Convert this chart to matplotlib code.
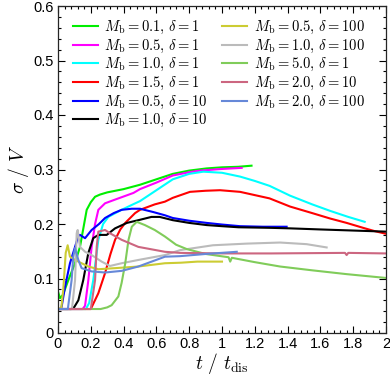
import matplotlib
matplotlib.use("Agg")
import matplotlib.pyplot as plt
from matplotlib.ticker import MultipleLocator

plt.rcParams['mathtext.fontset'] = 'cm'
plt.rcParams['font.family'] = ['Liberation Sans', 'DejaVu Sans']

labels = [r"$M_\mathrm{b} = 0.1,\, \delta = 1$",
          r"$M_\mathrm{b} = 0.5,\, \delta = 1$",
          r"$M_\mathrm{b} = 1.0,\, \delta = 1$",
          r"$M_\mathrm{b} = 1.5,\, \delta = 1$",
          r"$M_\mathrm{b} = 0.5,\, \delta = 10$",
          r"$M_\mathrm{b} = 1.0,\, \delta = 10$",
          r"$M_\mathrm{b} = 0.5,\, \delta = 100$",
          r"$M_\mathrm{b} = 1.0,\, \delta = 100$",
          r"$M_\mathrm{b} = 5.0,\, \delta = 1$",
          r"$M_\mathrm{b} = 2.0,\, \delta = 10$",
          r"$M_\mathrm{b} = 2.0,\, \delta = 100$"]
colors = ["#00ee00", "#ff00ff", "#00ffff", "#ff0000", "#0000ff", "#000000",
          "#cccc33", "#bbbbbb", "#80cc5a", "#cc6680", "#6688d8"]

t1 = [0.0, 0.012, 0.03, 0.063, 0.1, 0.134, 0.175, 0.2, 0.226, 0.256, 0.3, 0.4, 0.5, 0.6, 0.7, 0.8, 0.907, 1.0, 1.1, 1.18]
v1 = [0.076, 0.064, 0.07, 0.097, 0.125, 0.158, 0.226, 0.24, 0.25, 0.254, 0.258, 0.264, 0.272, 0.282, 0.292, 0.298, 0.302, 0.304, 0.305, 0.307]

t2 = [0.0, 0.15, 0.165, 0.185, 0.205, 0.226, 0.246, 0.287, 0.35, 0.46, 0.5, 0.6, 0.7, 0.8, 0.866, 1.0, 1.12]
v2 = [0.044, 0.044, 0.05, 0.097, 0.158, 0.2, 0.226, 0.238, 0.245, 0.257, 0.264, 0.276, 0.289, 0.295, 0.298, 0.301, 0.303]

t3 = [0.0, 0.17, 0.19, 0.215, 0.246, 0.275, 0.307, 0.35, 0.388, 0.45, 0.5, 0.6, 0.7, 0.8, 0.886, 1.0, 1.11, 1.2, 1.29, 1.415, 1.55, 1.66, 1.77, 1.87]
v3 = [0.044, 0.044, 0.055, 0.097, 0.171, 0.2, 0.213, 0.22, 0.226, 0.235, 0.242, 0.262, 0.282, 0.292, 0.296, 0.294, 0.287, 0.279, 0.27, 0.252, 0.236, 0.224, 0.213, 0.204]

t4 = [0.0, 0.2, 0.246, 0.287, 0.32, 0.348, 0.38, 0.41, 0.47, 0.5, 0.59, 0.652, 0.7, 0.805, 0.9, 0.988, 1.11, 1.2, 1.29, 1.415, 1.55, 1.66, 1.76, 1.86, 1.93, 2.0]
v4 = [0.044, 0.044, 0.073, 0.11, 0.145, 0.171, 0.19, 0.202, 0.22, 0.226, 0.236, 0.241, 0.248, 0.259, 0.261, 0.262, 0.259, 0.253, 0.247, 0.232, 0.22, 0.21, 0.202, 0.193, 0.187, 0.182]

t5 = [0.0, 0.015, 0.022, 0.043, 0.073, 0.104, 0.124, 0.134, 0.165, 0.205, 0.25, 0.287, 0.34, 0.388, 0.45, 0.5, 0.58, 0.652, 0.7, 0.8, 0.907, 1.0, 1.11, 1.25, 1.394]
v5 = [0.044, 0.044, 0.048, 0.085, 0.128, 0.158, 0.178, 0.18, 0.174, 0.189, 0.2, 0.211, 0.22, 0.226, 0.228, 0.228, 0.222, 0.216, 0.211, 0.206, 0.202, 0.199, 0.196, 0.195, 0.195]

t6 = [0.0, 0.08, 0.1, 0.124, 0.154, 0.185, 0.215, 0.246, 0.297, 0.348, 0.42, 0.49, 0.57, 0.62, 0.7, 0.8, 0.907, 1.0, 1.1, 1.29, 1.415, 1.6, 1.8, 2.0]
v6 = [0.044, 0.044, 0.048, 0.06, 0.097, 0.147, 0.174, 0.18, 0.18, 0.192, 0.202, 0.207, 0.213, 0.213, 0.207, 0.202, 0.198, 0.196, 0.194, 0.193, 0.192, 0.19, 0.188, 0.186]

t7 = [0.0, 0.02, 0.032, 0.047, 0.059, 0.073, 0.104, 0.144, 0.185, 0.246, 0.348, 0.49, 0.652, 0.75, 0.85, 1.0]
v7 = [0.044, 0.046, 0.079, 0.147, 0.161, 0.14, 0.134, 0.128, 0.122, 0.117, 0.119, 0.122, 0.128, 0.129, 0.131, 0.131]

t8 = [0.0, 0.085, 0.104, 0.114, 0.12, 0.134, 0.165, 0.205, 0.266, 0.317, 0.388, 0.49, 0.652, 0.744, 0.945, 1.15, 1.354, 1.516, 1.638]
v8 = [0.044, 0.044, 0.097, 0.183, 0.189, 0.158, 0.149, 0.143, 0.131, 0.123, 0.128, 0.134, 0.143, 0.152, 0.161, 0.164, 0.166, 0.163, 0.157]

t9 = [0.0, 0.26, 0.3, 0.327, 0.368, 0.388, 0.41, 0.43, 0.45, 0.48, 0.53, 0.59, 0.652, 0.72, 0.785, 0.9, 1.04, 1.05, 1.06, 1.2, 1.354, 1.55, 1.76, 2.0]
v9 = [0.044, 0.044, 0.047, 0.051, 0.067, 0.092, 0.128, 0.171, 0.195, 0.204, 0.198, 0.189, 0.177, 0.162, 0.154, 0.145, 0.139, 0.131, 0.138, 0.13, 0.122, 0.115, 0.108, 0.101]

t10 = [0.0, 0.2, 0.226, 0.236, 0.246, 0.287, 0.317, 0.388, 0.49, 0.652, 0.744, 1.0, 1.3, 1.75, 1.76, 1.77, 2.0]
v10 = [0.044, 0.044, 0.097, 0.158, 0.186, 0.189, 0.183, 0.171, 0.158, 0.149, 0.147, 0.146, 0.146, 0.147, 0.143, 0.147, 0.146]

t11 = [0.0, 0.06, 0.083, 0.093, 0.104, 0.124, 0.144, 0.205, 0.287, 0.388, 0.49, 0.652, 0.744, 0.9, 1.09]
v11 = [0.044, 0.044, 0.097, 0.14, 0.156, 0.134, 0.119, 0.113, 0.111, 0.114, 0.122, 0.14, 0.141, 0.145, 0.149]

series_t = [t1, t2, t3, t4, t5, t6, t7, t8, t9, t10, t11]
series_v = [v1, v2, v3, v4, v5, v6, v7, v8, v9, v10, v11]

fig = plt.figure(figsize=(3.90, 3.81), dpi=100)
ax = fig.add_axes([58/390, 48/381, 328/390, 327/381])

for t, v, c, lab in zip(series_t, series_v, colors, labels):
    ax.plot(t, v, color=c, lw=1.5, label=lab)

ax.set_xlim(0, 2)
ax.set_ylim(0, 0.6)
ax.xaxis.set_minor_locator(MultipleLocator(0.04))
ax.yaxis.set_minor_locator(MultipleLocator(0.02))
ax.set_xticks([0, 0.2, 0.4, 0.6, 0.8, 1, 1.2, 1.4, 1.6, 1.8, 2])
ax.set_xticklabels(["0", "0.2", "0.4", "0.6", "0.8", "1", "1.2", "1.4", "1.6", "1.8", "2"])
ax.set_yticks([0, 0.1, 0.2, 0.3, 0.4, 0.5, 0.6])
ax.set_yticklabels(["0", "0.1", "0.2", "0.3", "0.4", "0.5", "0.6"])
ax.tick_params(which='both', direction='in', top=True, right=True, labelsize=10.5, width=0.8)
ax.tick_params(which='major', length=5, pad=3)
ax.tick_params(which='minor', length=2.5)
for s in ax.spines.values():
    s.set_linewidth(0.9)
    s.set_color('#262626')

ax.set_xlabel(r"$t\ /\ t_\mathrm{dis}$", fontsize=14, labelpad=0)
ax.set_ylabel(r"$\sigma\ /\ V$", fontsize=14, labelpad=2)

ax.legend(ncol=2, loc='upper left', frameon=False, fontsize=10.5,
          handlelength=1.7, handletextpad=0.45, columnspacing=1.0,
          labelspacing=0.1, borderaxespad=0.0, borderpad=0.0,
          bbox_to_anchor=(0.045, 0.96))

fig.savefig("out.png", dpi=100)
